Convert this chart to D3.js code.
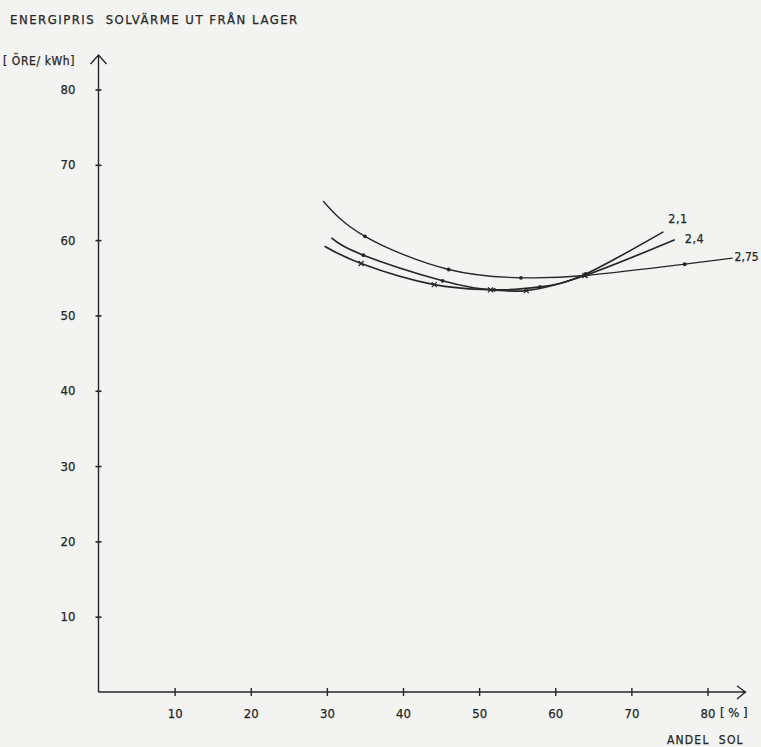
<!DOCTYPE html>
<html>
<head>
<meta charset="utf-8">
<script src="https://cdn.jsdelivr.net/npm/d3@7"></script>
<style>
body { margin:0; background:#f3f3f1; }
text { font-family:"DejaVu Sans Condensed", "DejaVu Sans", sans-serif; fill:#262626; stroke:#262626; stroke-width:0.25; }
</style>
</head>
<body>
<svg id="chart"></svg>
<script>
// tick values on both axes
var xTicks = [10,20,30,40,50,60,70,80];
var yTicks = [10,20,30,40,50,60,70,80];

// curve names (labels drawn at the right end of each curve)
var seriesNames = ["2,1","2,4","2,75"];

// andel sol [%] and energipris [öre/kWh]
var andel21 = [30.6,34.8,45.2,52,58,64,74.2];
var pris21  = [60.3,58.0,54.6,53.4,53.8,55.5,61.1];

var andel24 = [29.7,34.5,44.1,51.5,56.2,63.9,75.7];
var pris24  = [59.2,56.9,54.1,53.4,53.3,55.3,60.05];

var andel275 = [29.5,35,46,55.5,64,77,83.3];
var pris275  = [65.2,60.5,56.1,55.0,55.3,56.8,57.6];

var ink = "#262626";

//zips the x and y arrays into points
var makePoints = function(xs,ys)
{
    return xs.map(function(d,i){return {x:d,y:ys[i]};});
}

var initGraph = function(target)
{
    var screen = {width:761,height:747};

    var svg = d3.select(target)
        .attr("width",screen.width)
        .attr("height",screen.height);

    svg.append("rect")
        .attr("width",screen.width)
        .attr("height",screen.height)
        .attr("fill","#f3f3f1");

    var xScale = d3.scaleLinear().domain([0,80]).range([98.5,707.5]);
    var yScale = d3.scaleLinear().domain([0,80]).range([692,89.5]);

    // titles
    svg.append("text")
        .attr("x",10).attr("y",24)
        .attr("font-size",13)
        .attr("letter-spacing",1.5)
        .attr("xml:space","preserve")
        .text("ENERGIPRIS  SOLVÄRME UT FRÅN LAGER");
    svg.append("text")
        .attr("x",3).attr("y",65)
        .attr("font-size",12)
        .attr("letter-spacing",0.6)
        .attr("xml:space","preserve")
        .text("[ ÖRE/ kWh]");

    // y axis, ticks cross the line
    var yAxis = d3.axisLeft(yScale)
        .tickValues(yTicks)
        .tickSizeInner(3)
        .tickSizeOuter(0)
        .tickPadding(20)
        .tickFormat(d3.format("d"));
    var gy = svg.append("g")
        .attr("transform","translate("+xScale(0)+",0)")
        .call(yAxis);
    gy.select(".domain").remove();
    gy.selectAll(".tick line").attr("x1",3).attr("x2",-3)
        .attr("stroke",ink).attr("stroke-width",1.6);
    gy.selectAll(".tick text").attr("font-size",13).attr("font-family",null).attr("fill",ink);

    var xAxis = d3.axisBottom(xScale)
        .tickValues(xTicks)
        .tickSizeInner(4)
        .tickSizeOuter(0)
        .tickPadding(13)
        .tickFormat(d3.format("d"));
    var gx = svg.append("g")
        .attr("transform","translate(0,"+yScale(0)+")")
        .call(xAxis);
    gx.select(".domain").remove();
    gx.selectAll(".tick line").attr("y1",-4).attr("y2",4)
        .attr("stroke",ink).attr("stroke-width",1.4);
    gx.selectAll(".tick text").attr("font-size",13).attr("font-family",null).attr("fill",ink);

    // axis lines with open arrow heads
    var x0 = xScale(0), y0 = yScale(0);
    svg.append("path")
        .attr("d","M"+x0+","+y0+"V55M"+(x0-8)+",64L"+x0+",55L"+(x0+8)+",64")
        .attr("fill","none").attr("stroke",ink).attr("stroke-width",1.4);
    svg.append("path")
        .attr("d","M"+x0+","+y0+"H745.5M737,686L745.5,"+y0+"L737,699")
        .attr("fill","none").attr("stroke",ink).attr("stroke-width",1.4);

    svg.append("text")
        .attr("x",720).attr("y",717)
        .attr("font-size",13)
        .attr("xml:space","preserve")
        .text("[ % ]");
    svg.append("text")
        .attr("x",667).attr("y",744)
        .attr("font-size",12)
        .attr("letter-spacing",1.2)
        .attr("xml:space","preserve")
        .text("ANDEL  SOL");

    drawCurves(svg,xScale,yScale);
}

//draws the three curves, their markers and the end labels
var drawCurves = function(svg,xScale,yScale)
{
    var series = [
        {name:seriesNames[0],pts:makePoints(andel21,pris21),w:1.7,mark:"dot"},
        {name:seriesNames[1],pts:makePoints(andel24,pris24),w:1.7,mark:"cross"},
        {name:seriesNames[2],pts:makePoints(andel275,pris275),w:1.3,mark:"dot"}
    ];

    var line = d3.line()
        .x(function(d){return xScale(d.x);})
        .y(function(d){return yScale(d.y);})
        .curve(d3.curveNatural);

    svg.selectAll(".curve")
        .data(series)
        .enter()
        .append("path")
        .classed("curve",true)
        .attr("d",function(s){return line(s.pts);})
        .attr("fill","none")
        .attr("stroke",ink)
        .attr("stroke-width",function(s){return s.w;});

    series.forEach(function(s)
    {
        var inner = s.pts.slice(1,s.pts.length-1);
        if(s.mark=="dot")
        {
            svg.selectAll(null)
                .data(inner)
                .enter()
                .append("circle")
                .attr("cx",function(d){return xScale(d.x);})
                .attr("cy",function(d){return yScale(d.y);})
                .attr("r",1.9)
                .attr("fill",ink);
        }
        else
        {
            svg.selectAll(null)
                .data(inner)
                .enter()
                .append("path")
                .attr("d",function(d)
                {
                    var cx = xScale(d.x), cy = yScale(d.y);
                    return "M"+(cx-2.5)+","+(cy-2.5)+"L"+(cx+2.5)+","+(cy+2.5)+
                        "M"+(cx-2.5)+","+(cy+2.5)+"L"+(cx+2.5)+","+(cy-2.5);
                })
                .attr("stroke",ink)
                .attr("stroke-width",1.2);
        }
    });

    // labels at curve ends
    var labelPos = [{dx:5,dy:-9,fs:12.5},{dx:10,dy:3,fs:12.5},{dx:2,dy:3,fs:12}];
    series.forEach(function(s,i)
    {
        var last = s.pts[s.pts.length-1];
        svg.append("text")
            .attr("x",xScale(last.x)+labelPos[i].dx)
            .attr("y",yScale(last.y)+labelPos[i].dy)
            .attr("font-size",labelPos[i].fs)
            .attr("letter-spacing",i==2 ? 0 : 0.5)
            .text(s.name);
    });
}

initGraph("#chart");
</script>
</body>
</html>
